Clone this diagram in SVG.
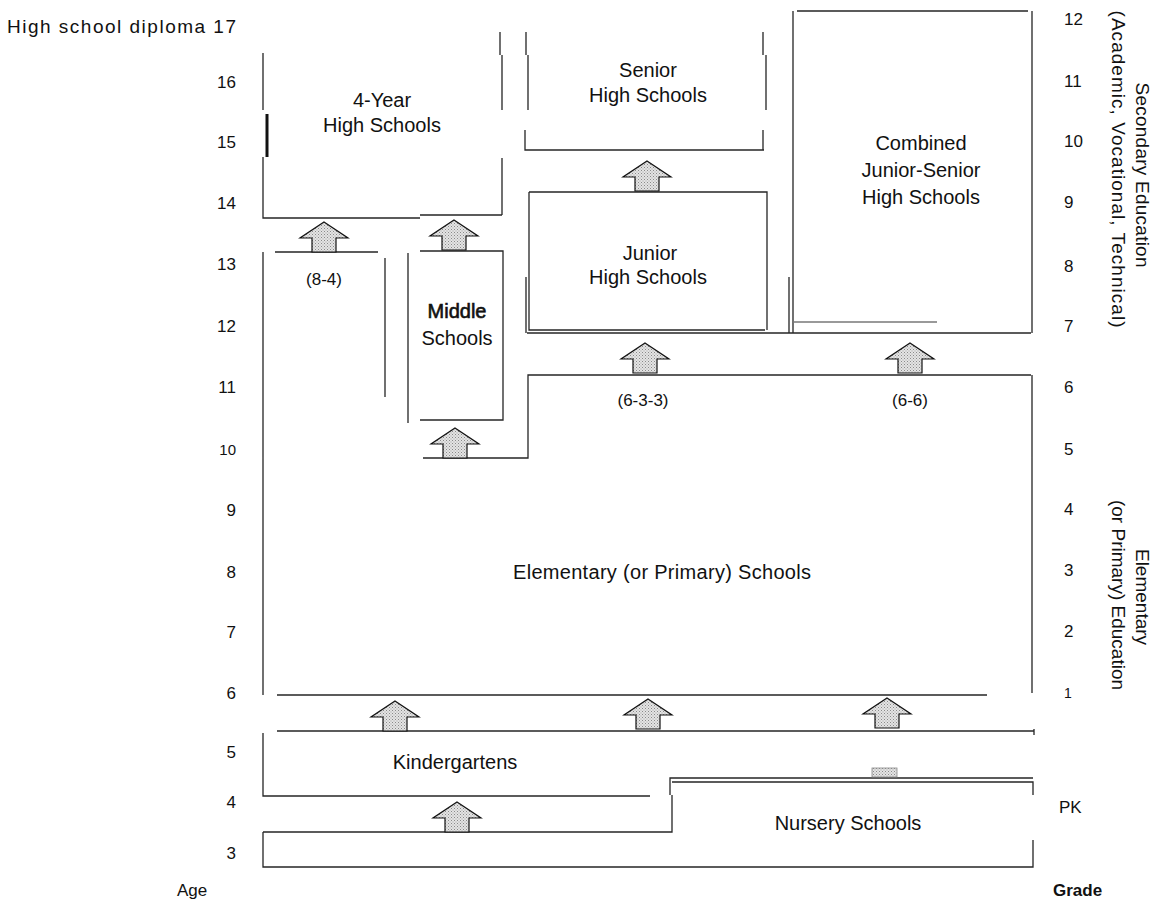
<svg xmlns="http://www.w3.org/2000/svg" width="1155" height="900" viewBox="0 0 1155 900">
  <defs>
    <pattern id="stip" width="3" height="3" patternUnits="userSpaceOnUse">
      <rect width="3" height="3" fill="#e4e4e4"/>
      <rect x="0" y="0" width="1" height="1" fill="#8a8a8a"/>
      <rect x="1.5" y="1.5" width="1" height="1" fill="#a0a0a0"/>
    </pattern>
    <path id="arr" d="M0,0 L24,16 L12,16 L12,30 L-12,30 L-12,16 L-24,16 Z"/>
  </defs>
  <style>
    .ln { fill: none; stroke: #262626; stroke-width: 1.3; }
    .lg { fill: none; stroke: #777; stroke-width: 1.3; }
    .t { font-family: "Liberation Sans", Arial, Helvetica, sans-serif; font-size: 20px; fill: #111; }
    .v { font-family: "Liberation Sans", Arial, Helvetica, sans-serif; font-size: 19px; fill: #111; text-anchor: middle; }
    .m { text-anchor: middle; }
    .n { font-family: "Liberation Sans", Arial, Helvetica, sans-serif; font-size: 17px; fill: #111; }
    .r { text-anchor: end; }
    .ar { fill: url(#stip); stroke: #111; stroke-width: 1.2; stroke-linejoin: miter; }
  </style>
  <rect width="1155" height="900" fill="#fff"/>

  <g id="age-axis">
    <text class="t" x="7" y="33" textLength="229" lengthAdjust="spacing" style="font-size:19px">High school diploma 17</text>
    <text class="n r" x="236" y="88">16</text>
    <text class="n r" x="236" y="148">15</text>
    <text class="n r" x="236" y="209">14</text>
    <text class="n r" x="236" y="270">13</text>
    <text class="n r" x="236" y="332">12</text>
    <text class="n r" x="236" y="393">11</text>
    <text class="n r" x="236" y="455" style="font-size:15px">10</text>
    <text class="n r" x="236" y="516">9</text>
    <text class="n r" x="236" y="578">8</text>
    <text class="n r" x="236" y="638">7</text>
    <text class="n r" x="236" y="699">6</text>
    <text class="n r" x="236" y="758">5</text>
    <text class="n r" x="236" y="808">4</text>
    <text class="n r" x="236" y="859">3</text>
    <text class="n" x="177" y="896">Age</text>
  </g>

  <g id="grade-axis">
    <text class="n" x="1064" y="25">12</text>
    <text class="n" x="1064" y="87">11</text>
    <text class="n" x="1064" y="147">10</text>
    <text class="n" x="1064" y="208">9</text>
    <text class="n" x="1064" y="272">8</text>
    <text class="n" x="1064" y="332">7</text>
    <text class="n" x="1064" y="393">6</text>
    <text class="n" x="1064" y="455">5</text>
    <text class="n" x="1064" y="515">4</text>
    <text class="n" x="1064" y="576">3</text>
    <text class="n" x="1064" y="637">2</text>
    <text class="n" x="1064" y="698" style="font-size:14px">1</text>
    <text class="n" x="1059" y="813">PK</text>
    <text class="n" x="1053" y="896" style="font-weight:bold">Grade</text>
    <text class="v" transform="translate(1136,175) rotate(90)" textLength="185" lengthAdjust="spacing">Secondary Education</text>
    <text class="v" transform="translate(1112,169) rotate(90)" textLength="317" lengthAdjust="spacing">(Academic, Vocational, Technical)</text>
    <text class="v" transform="translate(1136,597) rotate(90)">Elementary</text>
    <text class="v" transform="translate(1112,595) rotate(90)">(or Primary) Education</text>
  </g>

  <g id="four-year-high-schools">
    <path class="ln" d="M263,53 V110 M263,157 V218 H420 M420,215 H502 M500,32 V55 M502,55 V110 M502,158 V215"/>
    <path d="M267,114 V157" stroke="#111" stroke-width="3"/>
    <text class="t m" x="382" y="107">4-Year</text>
    <text class="t m" x="382" y="132">High Schools</text>
  </g>

  <g id="senior-high-schools">
    <path class="ln" d="M526,32 V55 M528,55 V110 M525,130 V150 H764 M763,32 V55 M766,55 V110 M763,130 V150"/>
    <text class="t m" x="648" y="77">Senior</text>
    <text class="t m" x="648" y="102">High Schools</text>
  </g>

  <g id="junior-high-schools">
    <path class="ln" d="M529,192 H767 V330 M529,192 V330 H765 M526,277 V333"/>
    <text class="t m" x="650" y="260">Junior</text>
    <text class="t m" x="648" y="284">High Schools</text>
  </g>

  <g id="combined-junior-senior-high-schools">
    <path class="ln" d="M793,11 V333 M797,11 H1028 M1032,11 V333 M789,277 V333 M527,333 H1031"/>
    <path class="lg" d="M793,322 H937"/>
    <text class="t m" x="921" y="150">Combined</text>
    <text class="t m" x="921" y="177">Junior-Senior</text>
    <text class="t m" x="921" y="204">High Schools</text>
  </g>

  <g id="middle-schools">
    <path class="ln" d="M420,251 H503 V420 H420 M408,253 V423 M385,258 V397"/>
    <text class="t m" x="457" y="318" style="stroke:#111;stroke-width:0.6">Middle</text>
    <text class="t m" x="457" y="345">Schools</text>
  </g>

  <g id="elementary-schools">
    <path class="ln" d="M263,252 V695 M275,252 H378 M423,458 H528 V375 H1031 M1032,375 V693 M277,695 H987"/>
    <text class="n m" x="324" y="285">(8-4)</text>
    <text class="n m" x="643" y="406">(6-3-3)</text>
    <text class="n m" x="910" y="406">(6-6)</text>
    <text class="t m" x="662" y="579" textLength="298" lengthAdjust="spacing">Elementary (or Primary) Schools</text>
  </g>

  <g id="kindergartens">
    <path class="ln" d="M277,731 H1034 M1034,729 V735 M263,733 V796 H650"/>
    <text class="t m" x="455" y="769">Kindergartens</text>
  </g>

  <g id="nursery-schools">
    <path class="ln" d="M263,832 H672 V795 M670,795 V778 H1033 M672,782 H1033 V795 M1033,840 V867 H263 V832"/>
    <text class="t m" x="848" y="830">Nursery Schools</text>
  </g>

  <g id="connectors">
    <use href="#arr" class="ar" x="324" y="222"/>
    <use href="#arr" class="ar" x="454" y="220"/>
    <use href="#arr" class="ar" x="455" y="428"/>
    <use href="#arr" class="ar" x="647" y="161"/>
    <use href="#arr" class="ar" x="645" y="343"/>
    <use href="#arr" class="ar" x="910" y="343"/>
    <use href="#arr" class="ar" x="395" y="701"/>
    <use href="#arr" class="ar" x="648" y="699"/>
    <use href="#arr" class="ar" x="887" y="698"/>
    <use href="#arr" class="ar" x="457" y="802"/>
    <rect x="872" y="768" width="25" height="9" fill="url(#stip)" stroke="#888" stroke-width="0.8"/>
  </g>
</svg>
